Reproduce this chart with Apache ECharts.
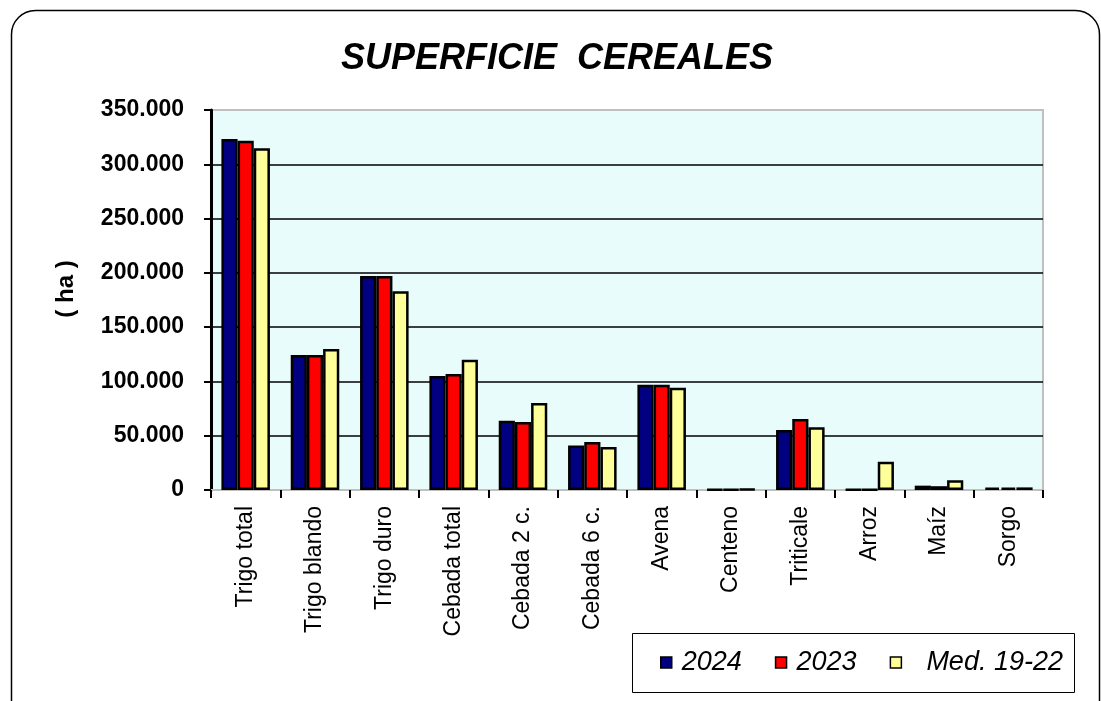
<!DOCTYPE html>
<html><head><meta charset="utf-8">
<script src="https://cdn.jsdelivr.net/npm/echarts@6/dist/echarts.min.js"></script>
<style>html,body{margin:0;padding:0;background:#fff}#c{width:1101px;height:701px}</style>
</head><body><div id="c"></div>
<script>
const categories = ['Trigo total','Trigo blando','Trigo duro','Cebada total','Cebada 2 c.','Cebada 6 c.','Avena','Centeno','Triticale','Arroz','Maíz','Sorgo'];
const s2024 = [323300,124300,197100,105000,63800,41100,97000,600,55300,300,4000,2200];
const s2023 = [321700,124300,197100,106800,62600,44200,97000,600,65400,300,3500,2200];
const sMed  = [314700,129900,183000,120000,80100,39600,94200,700,57700,26100,8900,2400];
const seriesNames = ['2024','2023','Med. 19-22'];
const colors = ['#000080','#ff0000','#ffff99'];
const yTicks = [0,50000,100000,150000,200000,250000,300000,350000];

const fmt = v => v === 0 ? '0' : String(v).replace(/\B(?=(\d{3})+(?!\d))/g, '.');
const chart = echarts.init(document.getElementById('c'));
const data = [s2024, s2023, sMed];
chart.setOption({
  animation: false,
  title: { text: 'SUPERFICIE  CEREALES', left: 552, top: 36, textAlign: 'center',
    textStyle: { fontFamily: 'Liberation Sans', fontSize: 36, fontWeight: 'bold', fontStyle: 'italic', color: '#000' } },
  graphic: [
    { type: 'rect', left: 9, top: 8, shape: { width: 1088, height: 720, r: 24 }, style: { fill: 'none', stroke: '#000', lineWidth: 1.5 }, z: -1 },
    { type: 'rect', left: 632, top: 633, shape: { width: 442, height: 59 }, style: { fill: '#fff', stroke: '#000', lineWidth: 1 }, z: 0 },
    { type: 'text', x: 66, y: 289, rotation: Math.PI / 2, style: { text: '( ha )', font: 'bold 24px "Liberation Sans"', fill: '#000', align: 'center', verticalAlign: 'middle' } }
  ],
  legend: { left: 660, top: 649, padding: 0, itemWidth: 11, itemHeight: 11, itemGap: 33,
    data: seriesNames.map(n => ({ name: n, icon: 'rect' })),
    formatter: n => n === 'Med. 19-22' ? '  ' + n : n,
    textStyle: { fontFamily: 'Liberation Sans', fontSize: 27, fontStyle: 'italic', color: '#000', padding: [0, 0, 0, 5] },
    itemStyle: { borderColor: '#000', borderWidth: 1.5 }, z: 5 },
  grid: { left: 211, right: 58, top: 110, bottom: 211, show: true, backgroundColor: '#e9fcfc', borderColor: '#c0c0c0', borderWidth: 2 },
  xAxis: { type: 'category', data: categories,
    axisLine: { lineStyle: { color: '#c0c0c0', width: 2 } },
    axisTick: { show: true, length: 8, lineStyle: { color: '#000', width: 2 } },
    axisLabel: { rotate: 90, margin: 16, fontFamily: 'Liberation Sans', fontSize: 23, color: '#000', interval: 0 } },
  yAxis: { type: 'value', min: 0, max: 350000, interval: 50000,
    axisLine: { show: true, lineStyle: { color: '#000', width: 3 } },
    axisTick: { show: true, length: 7, lineStyle: { color: '#000', width: 2 } },
    splitLine: { lineStyle: { color: ['#c0c0c0','#000','#000','#000','#000','#000','#000','#c0c0c0'], width: 1.5 } },
    axisLabel: { margin: 27, fontFamily: 'Liberation Sans', fontSize: 23, fontWeight: 'bold', color: '#000',
      formatter: v => yTicks.includes(v) ? fmt(v) : '' } },
  series: seriesNames.map((n, i) => ({
    name: n, type: 'bar', data: data[i], barGap: '0%', barCategoryGap: '30%',
    itemStyle: { color: colors[i], borderColor: '#000', borderWidth: 2.5 }
  }))
});
</script></body></html>
